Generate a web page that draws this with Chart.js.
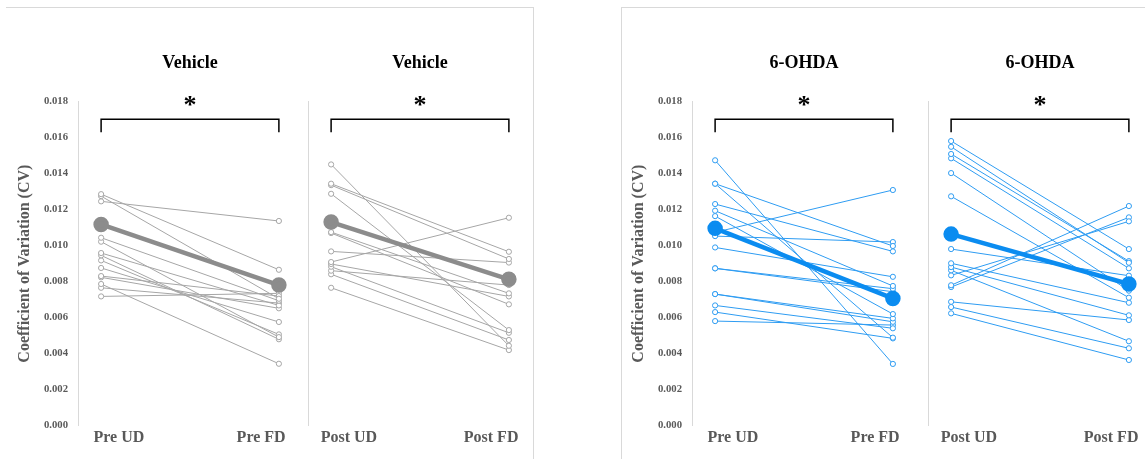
<!DOCTYPE html>
<html>
<head>
<meta charset="utf-8">
<title>CV paired plots</title>
<script src="https://cdn.jsdelivr.net/npm/chart.js@4.4.1/dist/chart.umd.min.js"></script>
<style>
    html, body { margin: 0; padding: 0; background: #fff; overflow: hidden; }
    #wrap { position: relative; width: 1145px; height: 459px; overflow: hidden; }
    .frame { position: absolute; border: 0 solid #d9d9d9; }
    .plot { position: absolute; top: 0; height: 459px; }
</style>
</head>
<body>
<div id="wrap">
    <div class="frame" style="left:6px; top:7px; width:527px; height:480px; border-top-width:1px; border-right-width:1px;"></div>
    <div class="frame" style="left:621px; top:7px; width:560px; height:480px; border-top-width:1px; border-left-width:1px;"></div>
    <div class="plot" style="left:0px; width:302px;"><canvas id="vehPre"></canvas></div>
    <div class="plot" style="left:305px; width:227px;"><canvas id="vehPost"></canvas></div>
    <div class="plot" style="left:614px; width:302px;"><canvas id="ohdaPre"></canvas></div>
    <div class="plot" style="left:925px; width:227px;"><canvas id="ohdaPost"></canvas></div>
</div>

<script>
// ---- data ----
const preCats = ['Pre UD', 'Pre FD'];
const postCats = ['Post UD', 'Post FD'];
const yTicks = [0, 0.018, 0.002];   // min, max, step

// Vehicle, pre surgery (each index = one animal)
const vehPreUD = [0.01286, 0.01275, 0.01246, 0.01044, 0.01022, 0.00959, 0.00946, 0.00918, 0.00876, 0.00831, 0.00824, 0.00787, 0.00766, 0.00718];
const vehPreFD = [0.00866, 0.00705, 0.01137, 0.00694, 0.00492, 0.00668, 0.00480, 0.00507, 0.00576, 0.00720, 0.00652, 0.00344, 0.00681, 0.00735];
const vehPreMean = [0.01118, 0.00781];

// Vehicle, post surgery
const vehPostUD = [0.01451, 0.01344, 0.01336, 0.01288, 0.01075, 0.01070, 0.00968, 0.00909, 0.00898, 0.00883, 0.00861, 0.00841, 0.00766];
const vehPostFD = [0.00444, 0.00966, 0.00926, 0.00531, 0.00735, 0.00674, 0.00906, 0.01155, 0.00718, 0.00516, 0.00781, 0.00476, 0.00420];
const vehPostMean = [0.01131, 0.00813];

// 6-OHDA, pre surgery
const ohdaPreUD = [0.01474, 0.01344, 0.01344, 0.01231, 0.01194, 0.01164, 0.01074, 0.01053, 0.00990, 0.00874, 0.00874, 0.00731, 0.00731, 0.00668, 0.00631, 0.00581];
const ohdaPreFD = [0.00343, 0.00998, 0.00489, 0.00968, 0.00776, 0.00620, 0.01309, 0.01020, 0.00827, 0.00761, 0.00744, 0.00596, 0.00577, 0.00541, 0.00485, 0.00559];
const ohdaPreMean = [0.01096, 0.00707];

// 6-OHDA, post surgery
const ohdaPostUD = [0.01581, 0.01549, 0.01509, 0.01485, 0.01403, 0.01274, 0.00981, 0.00902, 0.00881, 0.00863, 0.00835, 0.00780, 0.00770, 0.00688, 0.00659, 0.00624];
const ohdaPostFD = [0.00981, 0.00905, 0.00914, 0.00874, 0.00750, 0.00711, 0.00833, 0.00683, 0.00613, 0.00469, 0.01135, 0.01220, 0.01157, 0.00587, 0.00430, 0.00365];
const ohdaPostMean = [0.01064, 0.00787];

// significance bracket: bar level, end of drop, asterisk baseline
const bracketLevels = [0.01702, 0.01630, 0.01738];

const SERIF = '"Liberation Serif", "Times New Roman", serif';
const GREY_TXT = '#595959';

// Draw the * bracket between the two columns
const bracketPlugin = {
    id: 'sigBracket',
    afterDatasetsDraw(chart) {
        const { ctx, scales } = chart;
        const x0 = scales.x.getPixelForValue(0);
        const x1 = scales.x.getPixelForValue(1);
        const yBar = scales.y.getPixelForValue(bracketLevels[0]);
        const yEnd = scales.y.getPixelForValue(bracketLevels[1]);
        ctx.save();
        ctx.strokeStyle = '#000';
        ctx.lineWidth = 1.5;
        ctx.beginPath();
        ctx.moveTo(x0, yEnd);
        ctx.lineTo(x0, yBar);
        ctx.lineTo(x1, yBar);
        ctx.lineTo(x1, yEnd);
        ctx.stroke();
        ctx.fillStyle = '#000';
        ctx.font = 'bold 26px ' + SERIF;
        ctx.textAlign = 'center';
        ctx.textBaseline = 'alphabetic';
        ctx.fillText('*', (x0 + x1) / 2, scales.y.getPixelForValue(bracketLevels[2]));
        ctx.restore();
    }
};

function makeChart(id, title, cats, ud, fd, mean, colors, withAxisLabels) {
    // one dataset per animal, plus the group mean on top
    const datasets = ud.map((v, i) => ({
        data: [{ x: 0, y: v }, { x: 1, y: fd[i] }],
        borderColor: colors.line,
        borderWidth: 1,
        pointRadius: 2.6,
        pointBorderWidth: 1,
        pointBackgroundColor: '#fff',
        pointBorderColor: colors.line,
        order: 1
    }));
    datasets.push({
        data: [{ x: 0, y: mean[0] }, { x: 1, y: mean[1] }],
        borderColor: colors.mean,
        borderWidth: 4.5,
        pointRadius: 5.5,
        pointBackgroundColor: colors.mean,
        pointBorderColor: colors.mean,
        order: 0
    });

    return new Chart(document.getElementById(id), {
        type: 'line',
        data: { datasets: datasets },
        options: {
            responsive: true,
            maintainAspectRatio: false,
            animation: false,
            layout: { padding: 0, autoPadding: false },
            plugins: {
                legend: { display: false },
                tooltip: { enabled: false },
                title: {
                    display: true,
                    text: title,
                    fullSize: false,
                    color: '#000',
                    font: { family: SERIF, size: 18, weight: 'bold' },
                    padding: { top: 53, bottom: 27 }
                }
            },
            scales: {
                x: {
                    type: 'linear',
                    bounds: 'data',
                    min: -0.13,
                    max: 1.13,
                    border: { display: false },
                    grid: { display: false, drawTicks: false },
                    afterBuildTicks: (axis) => { axis.ticks = [{ value: 0.1 }, { value: 0.9 }]; },
                    afterFit: (axis) => {
                        axis.height = 33.3;
                        axis.paddingLeft = 0;
                        axis.paddingRight = 0;
                    },
                    ticks: {
                        autoSkip: false,
                        maxRotation: 0,
                        padding: 3,
                        color: GREY_TXT,
                        font: { family: SERIF, size: 16, weight: 'bold' },
                        callback: (value, index) => cats[index]
                    }
                },
                y: {
                    min: yTicks[0],
                    max: yTicks[1],
                    border: { display: true, color: '#d9d9d9', width: 1 },
                    grid: { display: false, drawTicks: false },
                    afterFit: (axis) => { axis.width = withAxisLabels ? 78 : 3; },
                    ticks: {
                        display: withAxisLabels,
                        stepSize: yTicks[2],
                        padding: 10,
                        color: GREY_TXT,
                        font: { family: SERIF, size: 10.7, weight: 'bold' },
                        callback: (v) => v.toFixed(3)
                    },
                    title: {
                        display: withAxisLabels,
                        text: 'Coefficient of Variation (CV)',
                        color: GREY_TXT,
                        font: { family: SERIF, size: 16, weight: 'bold' },
                        padding: { top: 15, bottom: 0 }
                    }
                }
            }
        },
        plugins: [bracketPlugin]
    });
}

const greyStyle = { line: '#a6a6a6', mean: '#8c8c8c' };
const blueStyle = { line: '#2e9cf2', mean: '#0b8cf0' };

makeChart('vehPre', 'Vehicle', preCats, vehPreUD, vehPreFD, vehPreMean, greyStyle, true);
makeChart('vehPost', 'Vehicle', postCats, vehPostUD, vehPostFD, vehPostMean, greyStyle, false);
makeChart('ohdaPre', '6-OHDA', preCats, ohdaPreUD, ohdaPreFD, ohdaPreMean, blueStyle, true);
makeChart('ohdaPost', '6-OHDA', postCats, ohdaPostUD, ohdaPostFD, ohdaPostMean, blueStyle, false);
</script>
</body>
</html>
